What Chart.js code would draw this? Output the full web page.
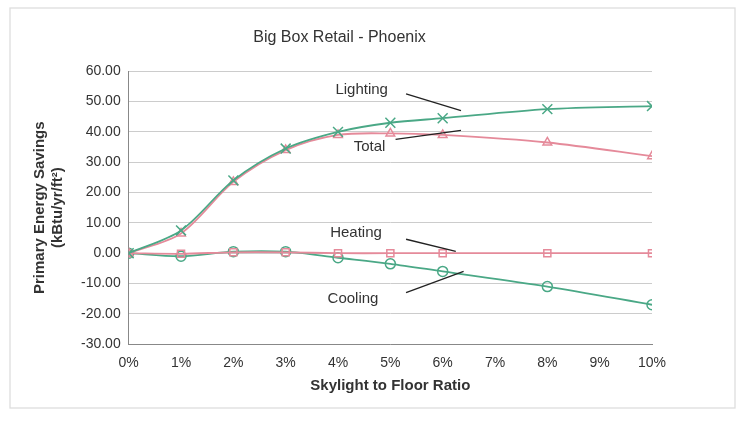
<!DOCTYPE html>
<html><head><script src="https://cdn.jsdelivr.net/npm/chart.js@4/dist/chart.umd.min.js"></script>
<style>body{margin:0;background:#fff}#w{width:751px;height:428px}</style></head>
<body><div id="w"><canvas id="c"></canvas></div>
<script>
const ratios=[0,1,2,3,4,5,6,8,10];
const lighting=[0,7.5,24,34.5,40,43,44.5,47.5,48.5];
const total=[0,6.5,23.5,34,39,39.5,39,36.5,32];
const heating=[0,-0.2,0.3,0.3,0,0,0,0,0];
const cooling=[0,-1,0.5,0.5,-1.5,-3.5,-6,-11,-17];
const labels=[{t:'Lighting',tx:3.95,ty:54,lx:[5.3,6.35],ly:[52.5,47]},
{t:'Total',tx:4.3,ty:35,lx:[5.1,6.35],ly:[37.5,40.5]},
{t:'Heating',tx:3.85,ty:6.6,lx:[5.3,6.25],ly:[4.6,0.6]},
{t:'Cooling',tx:3.8,ty:-15,lx:[5.3,6.4],ly:[-13,-6]}];
const green='#4aa886',pink='#e58a9a';
const mk=(l,d,c,s)=>({label:l,data:d.map((v,i)=>({x:ratios[i],y:v})),borderColor:c,backgroundColor:'rgba(0,0,0,0)',pointStyle:s,pointRadius:s==='crossRot'?7:5,pointBorderColor:c,borderWidth:1.8,pointBorderWidth:1.5,tension:0.3});
const ann={id:'ann',afterDatasetsDraw(ch){const x=ch.scales.x,y=ch.scales.y,c=ch.ctx;c.save();c.font='15px Arial';c.fillStyle='#333';c.strokeStyle='#222';c.lineWidth=1.3;c.textBaseline='middle';
labels.forEach(a=>{c.fillText(a.t,x.getPixelForValue(a.tx),y.getPixelForValue(a.ty));c.beginPath();c.moveTo(x.getPixelForValue(a.lx[0]),y.getPixelForValue(a.ly[0]));c.lineTo(x.getPixelForValue(a.lx[1]),y.getPixelForValue(a.ly[1]));c.stroke();});
c.strokeStyle='#ddd';c.strokeRect(10,8,725,400);c.restore();}};
new Chart(document.getElementById('c'),{type:'line',data:{datasets:[mk('Lighting',lighting,green,'crossRot'),mk('Total',total,pink,'triangle'),mk('Heating',heating,pink,'rect'),mk('Cooling',cooling,green,'circle')]},
options:{responsive:true,maintainAspectRatio:false,animation:false,layout:{padding:{left:27,right:99,top:14,bottom:29}},
plugins:{legend:{display:false},tooltip:{enabled:false},title:{display:true,text:'Big Box Retail - Phoenix',font:{family:'Arial',size:16,weight:'normal'},color:'#333',padding:{top:14,bottom:24}}},
scales:{x:{type:'linear',min:0,max:10,ticks:{stepSize:1,callback:v=>v+'%',color:'#333',font:{family:'Arial',size:14}},grid:{display:false},border:{color:'#888'},title:{display:true,text:'Skylight to Floor Ratio',font:{family:'Arial',size:15,weight:'bold'},color:'#333',padding:{top:2}}},
y:{min:-30,max:60,ticks:{stepSize:10,callback:v=>v.toFixed(2),color:'#333',font:{family:'Arial',size:14},padding:8},grid:{color:'#ccc',drawTicks:false},border:{color:'#888'},title:{display:true,text:['Primary Energy Savings','(kBtu/yr/ft²)'],font:{family:'Arial',size:15,weight:'bold'},color:'#333',padding:{bottom:6}}}}},plugins:[ann]});
</script></body></html>
